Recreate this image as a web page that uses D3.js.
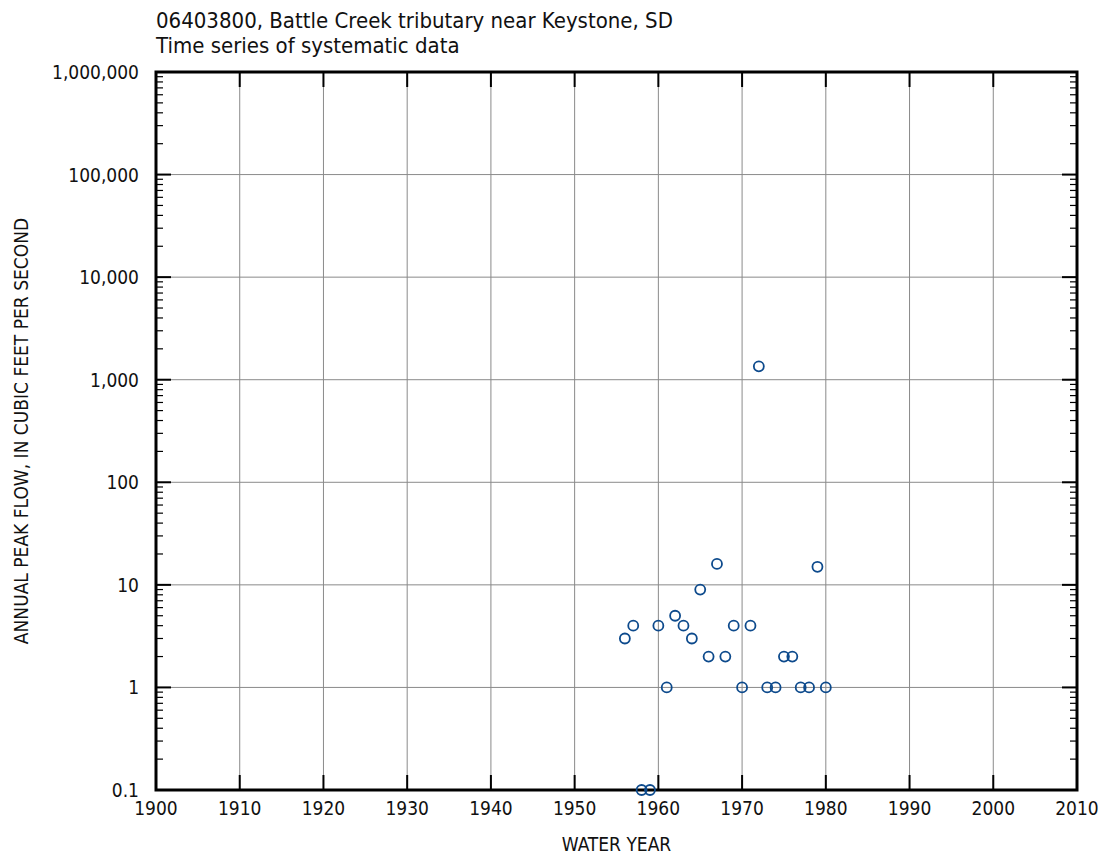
<!DOCTYPE html>
<html><head><meta charset="utf-8">
<script src="https://cdn.jsdelivr.net/npm/d3@7"></script>
<style>
body{margin:0;background:#fff;}
text{font-family:"DejaVu Sans Condensed","DejaVu Sans",sans-serif;font-stretch:condensed;fill:#111;}
</style></head><body>
<svg id="chart" width="1101" height="856"></svg>
<script>
const title1 = "06403800, Battle Creek tributary near Keystone, SD";
const title2 = "Time series of systematic data";
const xLabel = "WATER YEAR";
const yLabel = "ANNUAL PEAK FLOW, IN CUBIC FEET PER SECOND";
const years = [1956,1957,1958,1959,1960,1961,1962,1963,1964,1965,1966,1967,1968,1969,1970,1971,1972,1973,1974,1975,1976,1977,1978,1979,1980];
const peaks = [3,4,0.1,0.1,4,1,5,4,3,9,2,16,2,4,1,4,1350,1,1,2,2,1,1,15,1];
const xTicks = [1900,1910,1920,1930,1940,1950,1960,1970,1980,1990,2000,2010];
const yTicks = [0.1,1,10,100,1000,10000,100000,1000000];
const yTickLabels = ["0.1","1","10","100","1,000","10,000","100,000","1,000,000"];

const svg = d3.select("#chart");
const L=156, R=1077, T=72, B=790;
const x = d3.scaleLinear().domain([1900,2010]).range([L,R]);
const y = d3.scaleLog().domain([0.1,1000000]).range([B,T]);

svg.append("g").selectAll("line").data(xTicks.slice(1,-1)).join("line")
  .attr("x1",d=>x(d)).attr("x2",d=>x(d)).attr("y1",T).attr("y2",B)
  .attr("stroke","#8a8a8a").attr("stroke-width",1);
svg.append("g").selectAll("line").data(yTicks.slice(1,-1)).join("line")
  .attr("x1",L).attr("x2",R).attr("y1",d=>y(d)).attr("y2",d=>y(d))
  .attr("stroke","#8a8a8a").attr("stroke-width",1);

const minors=[];
for(let e=-1;e<6;e++){for(let m=2;m<=9;m++){minors.push(m*Math.pow(10,e));}}
const tg = svg.append("g").attr("stroke","#000");
tg.selectAll(".ml").data(minors).join("line")
  .attr("x1",L).attr("x2",L+7).attr("y1",d=>y(d)).attr("y2",d=>y(d)).attr("stroke-width",1.2);
tg.selectAll(".mr").data(minors).join("line")
  .attr("x1",R).attr("x2",R-7).attr("y1",d=>y(d)).attr("y2",d=>y(d)).attr("stroke-width",1.2);
tg.selectAll(".Ml").data(yTicks).join("line")
  .attr("x1",L).attr("x2",L+15).attr("y1",d=>y(d)).attr("y2",d=>y(d)).attr("stroke-width",2);
tg.selectAll(".Mr").data(yTicks).join("line")
  .attr("x1",R).attr("x2",R-15).attr("y1",d=>y(d)).attr("y2",d=>y(d)).attr("stroke-width",2);
tg.selectAll(".Mb").data(xTicks).join("line")
  .attr("x1",d=>x(d)).attr("x2",d=>x(d)).attr("y1",B).attr("y2",B-15).attr("stroke-width",2);
tg.selectAll(".Mt").data(xTicks).join("line")
  .attr("x1",d=>x(d)).attr("x2",d=>x(d)).attr("y1",T).attr("y2",T+15).attr("stroke-width",2);

svg.append("rect").attr("x",L).attr("y",T).attr("width",R-L).attr("height",B-T)
  .attr("fill","none").attr("stroke","#000").attr("stroke-width",3);

svg.append("g").selectAll("text").data(xTicks).join("text")
  .attr("x",d=>x(d)).attr("y",B+25).attr("text-anchor","middle")
  .attr("font-size",19).text(d=>d);
svg.append("g").selectAll("text").data(yTicks).join("text")
  .attr("x",L-17).attr("y",d=>y(d)+7).attr("text-anchor","end")
  .attr("font-size",19).text((d,i)=>yTickLabels[i]);

svg.append("text").attr("x",(L+R)/2).attr("y",851).attr("text-anchor","middle")
  .attr("font-size",19).text(xLabel);
svg.append("text").attr("transform",`translate(28,${(T+B)/2}) rotate(-90)`)
  .attr("text-anchor","middle").attr("font-size",19).text(yLabel);

svg.append("text").attr("x",L).attr("y",28).attr("font-size",22).text(title1);
svg.append("text").attr("x",L).attr("y",53).attr("font-size",22).text(title2);

svg.append("g").selectAll("circle").data(years.map((d,i)=>[d,peaks[i]])).join("circle")
  .attr("cx",d=>x(d[0])).attr("cy",d=>y(d[1])).attr("r",5)
  .attr("fill","none").attr("stroke","#0d4a8c").attr("stroke-width",1.8);
</script></body></html>
